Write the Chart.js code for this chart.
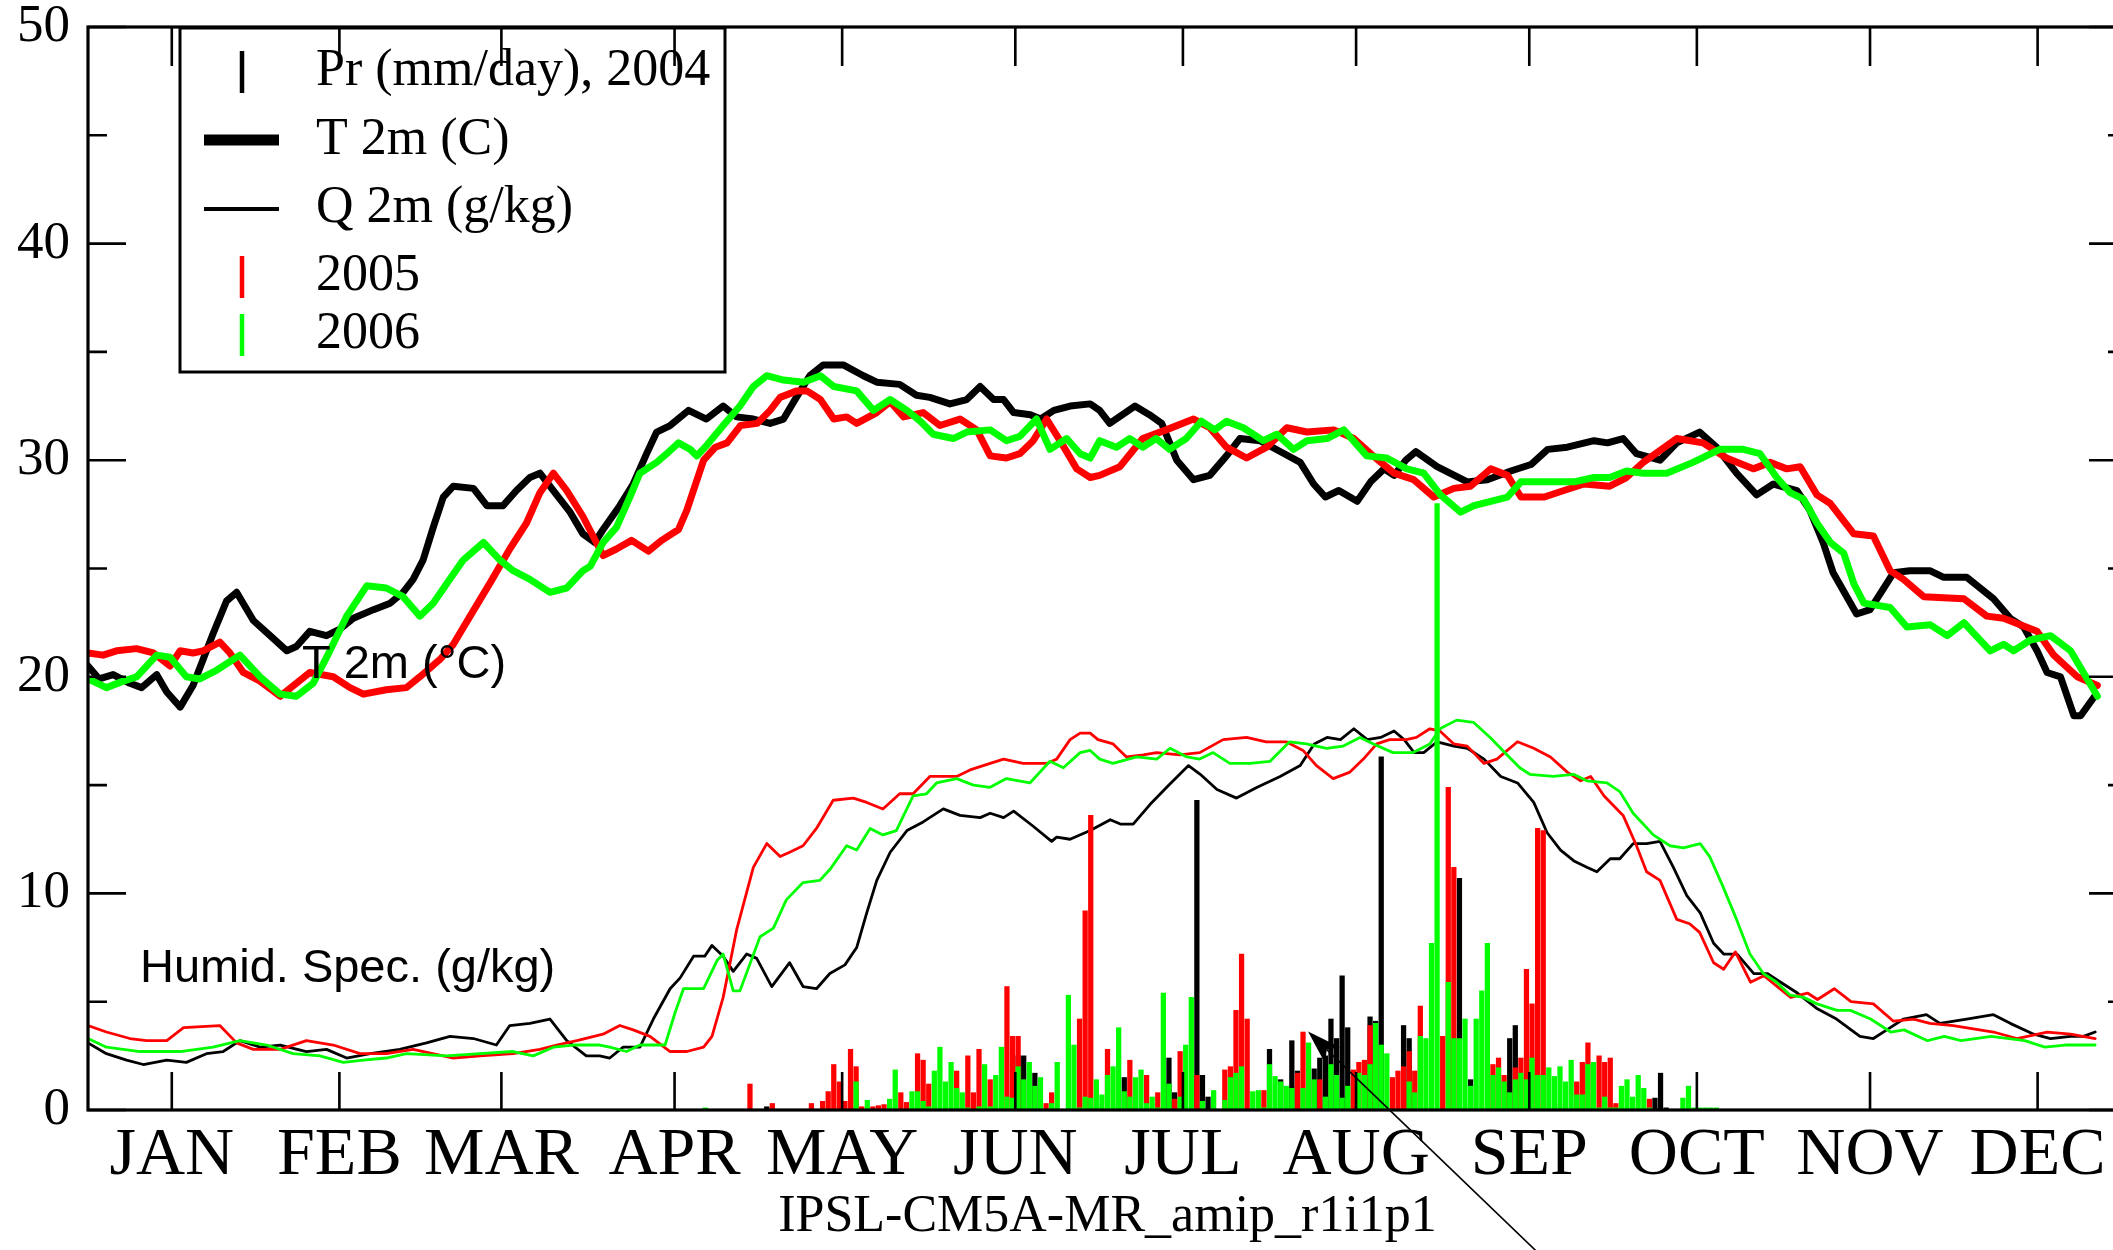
<!DOCTYPE html>
<html>
<head>
<meta charset="utf-8">
<title>IPSL-CM5A-MR_amip_r1i1p1 – T 2m, Q 2m, Pr</title>
<script src="https://cdn.jsdelivr.net/npm/chart.js@4/dist/chart.umd.min.js"></script>
<style>
  html, body { margin: 0; padding: 0; background: #fff; overflow: hidden; }
  canvas { display: block; }
</style>
</head>
<body>
<canvas id="chart" width="2140" height="1250"></canvas>
<script>
// ---- axis ticks ----------------------------------------------------------
const monthTicks  = [15, 45, 74, 105, 135, 166, 196, 227, 258, 288, 319, 349];
const monthLabels = ['JAN','FEB','MAR','APR','MAY','JUN','JUL','AUG','SEP','OCT','NOV','DEC'];
const yMajorTicks = [0, 10, 20, 30, 40, 50];
const yMinorTicks = [5, 15, 25, 35, 45];

// ---- 2 m temperature (C), [day of year, value] ---------------------------
const t2m2004 = [[0,20.5],[2,19.9],[4.5,20.1],[7.5,19.7],[9.6,19.5],[12.3,20.1],[14.1,19.3],[16.5,18.6],[18.8,19.6],[22.4,22.0],[24.8,23.5],[26.6,23.9],[29.6,22.6],[32.6,21.9],[35.6,21.2],[37.3,21.4],[39.7,22.1],[42.7,21.9],[45.1,22.2],[47.5,22.7],[51.1,23.1],[54.1,23.4],[56.4,23.9],[58.2,24.5],[60,25.4],[61.8,26.9],[63.6,28.3],[65.4,28.8],[69,28.7],[71.4,27.9],[74.3,27.9],[76.7,28.6],[79.1,29.2],[80.9,29.4],[83.3,28.6],[86.3,27.6],[88.6,26.6],[90.7,26.2],[92.2,26.8],[95.2,27.9],[97.6,28.9],[100,30.3],[101.8,31.3],[104.2,31.6],[107.5,32.3],[110.7,31.9],[113.7,32.5],[116.1,32.0],[119.1,31.9],[122.1,31.7],[124.5,31.9],[126.8,32.9],[129.2,33.9],[131.6,34.4],[135.2,34.4],[138.8,33.9],[141.2,33.6],[145.3,33.5],[148.3,33.0],[150.7,32.9],[154.3,32.6],[157.3,32.8],[159.7,33.4],[162.1,32.8],[163.9,32.8],[165.7,32.2],[168.7,32.1],[170.5,31.9],[172.9,32.3],[175.8,32.5],[179.4,32.6],[181.1,32.3],[182.9,31.7],[187.4,32.5],[190,32.1],[192.2,31.7],[194.9,30.0],[197.9,29.1],[200.8,29.3],[203.8,30.2],[206.2,31.0],[209.8,30.9],[213.4,30.4],[217,29.9],[219.4,28.9],[221.5,28.3],[223.9,28.6],[227.2,28.1],[229.6,29.0],[232,29.6],[233.8,29.3],[235.9,30.0],[237.7,30.4],[241.5,29.7],[246.9,29.0],[250.5,29.1],[254.7,29.5],[258.3,29.8],[261.3,30.5],[264.8,30.6],[269.6,30.9],[272,30.8],[274.8,31.0],[277.2,30.3],[281.4,30.0],[284.4,30.8],[288.5,31.3],[291.5,30.6],[295.1,29.4],[298.7,28.4],[301.7,28.9],[305.9,28.6],[308.2,27.7],[310.6,26.2],[312.4,24.8],[316.6,22.9],[319,23.1],[323.2,24.8],[326.1,24.9],[329.7,24.9],[332.1,24.6],[336.3,24.6],[341.1,23.6],[344.1,22.7],[346.5,22.3],[348.9,21.2],[350.7,20.2],[353.1,20.0],[355.5,18.2],[356.7,18.2],[359.2,19.1]];
const t2m2005 = [[0,21.1],[2.7,21.0],[5.1,21.2],[8.7,21.3],[11.7,21.1],[14.7,20.5],[16.5,21.2],[18.8,21.1],[20.6,21.2],[23.6,21.6],[25.4,21.1],[27.8,20.2],[30.8,19.8],[34.4,19.1],[37.3,19.7],[39.7,20.2],[43.9,20.0],[46.9,19.5],[49.3,19.2],[53.4,19.4],[57,19.5],[59.4,20.0],[63,20.8],[65.4,21.5],[68.4,22.8],[71.9,24.3],[75.5,25.9],[78.5,27.1],[80.9,28.5],[83.3,29.4],[85.7,28.6],[88.6,27.4],[92.2,25.6],[94.6,25.9],[97.3,26.3],[100.3,25.8],[102.7,26.3],[105.7,26.8],[107.2,27.7],[110.2,30.0],[112.3,30.6],[114.4,30.8],[116.8,31.6],[119.8,31.7],[122.1,32.3],[123.9,32.9],[126.9,33.2],[128.7,33.2],[131.1,32.8],[133.5,31.9],[135.8,32.0],[137.6,31.7],[141.2,32.2],[143.6,32.7],[146,32.0],[149.5,32.2],[152.5,31.6],[156.1,31.9],[159.1,31.4],[161.5,30.2],[164.4,30.1],[166.8,30.3],[169.2,30.9],[171.6,31.9],[174,30.9],[177,29.6],[179.4,29.2],[181.1,29.3],[184.7,29.7],[188.8,31.0],[193,31.4],[197.9,31.9],[200.8,31.5],[203.8,30.6],[207.4,30.1],[211,30.6],[214.6,31.5],[218.2,31.3],[223,31.4],[226.6,31.0],[229.6,30.3],[233.8,29.4],[237.3,29.1],[240.9,28.3],[244.5,28.7],[247.5,28.8],[251.1,29.6],[254.1,29.3],[256.5,28.3],[260.7,28.3],[264.2,28.6],[267.8,28.9],[272.4,28.8],[275.4,29.2],[278.4,29.9],[284.4,31.0],[289.1,30.8],[293.3,30.1],[298.1,29.6],[301.1,29.9],[304.1,29.6],[306.5,29.7],[309.5,28.4],[311.9,28.0],[316.1,26.6],[319.6,26.5],[322.6,24.9],[325,24.5],[328.6,23.7],[335.8,23.6],[339.9,22.8],[342.9,22.7],[348.9,22.1],[351.9,21.0],[356.1,20.0],[359.7,19.6]];
const t2m2006 = [[0,19.9],[3.3,19.5],[6.3,19.8],[8.7,20.0],[12.3,21.0],[14.7,20.9],[17.6,20.0],[20,19.9],[23,20.3],[27.2,21.0],[30.8,20.0],[34.4,19.2],[37.3,19.1],[40.3,19.7],[43.3,21.2],[46.3,22.8],[49.9,24.2],[53.4,24.1],[56.4,23.7],[59.4,22.8],[61.8,23.4],[64.2,24.3],[67.2,25.4],[70.8,26.2],[73.7,25.4],[76.1,24.9],[79.1,24.5],[82.7,23.9],[85.7,24.1],[88.6,24.9],[89.9,25.1],[92.2,26.2],[94.6,26.9],[97,28.3],[98.8,29.4],[101.8,29.9],[103.6,30.3],[105.7,30.8],[107.8,30.5],[109,30.2],[110.8,30.7],[113.7,31.6],[116.7,32.5],[119.1,33.4],[121.5,33.9],[124.5,33.7],[128.1,33.6],[131.1,33.9],[133.5,33.4],[137.6,33.2],[140.6,32.3],[143.6,32.8],[146.6,32.3],[149,31.8],[151.3,31.2],[154.9,31.0],[157.3,31.3],[161.5,31.4],[164.4,30.9],[166.8,31.1],[169.8,31.9],[172.2,30.5],[175.2,31.0],[177.6,30.3],[179.4,30.1],[181.1,30.9],[184.1,30.6],[186.5,31.0],[188.8,30.6],[191.2,31.0],[193.6,30.5],[196.6,31.0],[199.3,31.8],[201.7,31.4],[203.8,31.8],[206.8,31.5],[210.4,30.9],[212.8,31.2],[215.8,30.5],[218.2,30.9],[221.8,31.0],[224.8,31.4],[228.9,30.2],[232.5,30.1],[236.1,29.6],[239.1,29.4],[242.1,28.4],[245.7,27.6],[248.1,27.9],[254.1,28.3],[256.5,29.0],[261.8,29.0],[266,29.0],[269.6,29.2],[272.4,29.2],[275.4,29.5],[278.4,29.4],[282.6,29.4],[287.3,29.9],[292.1,30.5],[296.3,30.5],[299.3,30.3],[302.3,29.2],[304.7,28.5],[307.1,28.2],[309.5,27.1],[311.9,26.2],[314.3,25.7],[316.1,24.3],[317.9,23.4],[322.6,23.2],[325.6,22.3],[329.8,22.4],[332.8,21.9],[335.8,22.5],[340.5,21.2],[342.9,21.5],[344.7,21.2],[347.7,21.7],[351.3,21.9],[354.9,21.2],[359.7,19.1]];

// ---- 2 m specific humidity (g/kg), [day of year, value] ------------------
const q2m2004 = [[0,3.1],[3.3,2.6],[6.9,2.3],[9.9,2.1],[14.1,2.3],[17.6,2.2],[21.2,2.6],[24.2,2.7],[27.2,3.2],[30.8,2.9],[34.4,3.0],[39.1,2.7],[42.7,2.8],[46.3,2.4],[50.5,2.6],[55.8,2.8],[60.6,3.1],[64.8,3.4],[69,3.3],[73.1,3.0],[75.5,3.9],[79.1,4.0],[82.7,4.2],[85.7,3.2],[89.2,2.5],[91.6,2.5],[93.4,2.4],[95.8,2.9],[98.8,2.9],[101.2,4.2],[104.2,5.6],[106,6.1],[108.4,7.1],[110.4,7.1],[111.7,7.6],[113.7,7.1],[115.5,6.4],[117.9,7.2],[119.7,7.0],[122.4,5.7],[125.6,6.8],[128,5.7],[130.4,5.6],[132.8,6.3],[135.5,6.7],[137.6,7.5],[139.4,9.1],[141.2,10.6],[143.6,11.9],[146.6,12.9],[149.5,13.3],[153.1,13.9],[156.1,13.6],[159.7,13.5],[161.5,13.7],[163.9,13.5],[165.7,13.8],[169.2,13.1],[172.5,12.4],[173.4,12.6],[175.8,12.5],[179.4,12.9],[183,13.4],[184.8,13.2],[187.1,13.2],[190.1,14.1],[193.1,14.9],[197,15.9],[199.1,15.5],[202.1,14.8],[205.6,14.4],[209.3,14.9],[213.4,15.4],[217,15.9],[219.5,16.9],[221.8,17.2],[224.2,17.1],[226.6,17.6],[229,17.1],[231.4,17.2],[233.8,17.5],[235.6,17.1],[237.4,16.5],[239.1,16.5],[241.5,17.0],[244.5,16.8],[246.9,16.7],[249.9,16.2],[252.9,15.4],[255.9,15.1],[258.8,14.2],[261.2,12.8],[263.6,12.0],[266,11.5],[268.4,11.2],[270.1,11.0],[272.5,11.6],[274.2,11.6],[276.6,12.3],[279,12.3],[281.4,12.4],[283.8,11.2],[286.2,9.9],[288.6,9.1],[291,7.7],[292.8,7.2],[295.2,7.2],[298.2,6.3],[300.6,6.3],[303,5.9],[306,5.4],[309.4,4.7],[313,4.2],[317.2,3.4],[319.6,3.3],[322,3.7],[325,4.2],[329.1,4.4],[331.5,4.0],[336.3,4.2],[341.1,4.4],[344.1,4.0],[348.3,3.5],[351.3,3.3],[354.9,3.4],[357.2,3.4],[359.3,3.6]];
const q2m2005 = [[0,3.9],[3.3,3.6],[7.5,3.3],[10.5,3.2],[14.1,3.2],[17.1,3.8],[23.6,3.9],[26.6,3.1],[29.6,2.8],[34.4,2.8],[39.1,3.2],[43.9,3.0],[48.7,2.6],[53.4,2.6],[58.2,2.8],[65.4,2.4],[70.2,2.5],[76.1,2.6],[80.9,2.8],[83.9,3.0],[87.5,3.2],[92.2,3.5],[95.2,3.9],[97.6,3.7],[100.6,3.4],[104.2,2.7],[107.2,2.7],[110.2,2.9],[111.7,3.4],[113.7,5.2],[116.1,8.3],[119.1,11.2],[121.5,12.3],[123.9,11.7],[125.6,11.9],[128,12.2],[130.4,13.0],[133.4,14.3],[137,14.4],[139.4,14.2],[142.3,13.9],[145.3,14.6],[147.7,14.6],[150.7,15.4],[153.1,15.4],[155.5,15.4],[157.9,15.7],[161.5,16.0],[163.9,16.2],[167.4,16.0],[171.6,16.0],[173.4,16.2],[175.8,17.1],[177.6,17.4],[179.4,17.4],[180.8,17.1],[183.5,16.9],[185.9,16.3],[188.9,16.4],[191.3,16.5],[195.4,16.4],[199,16.5],[203.2,17.1],[207.4,17.2],[210.9,17.0],[214.5,17.0],[217.5,16.6],[219.9,15.9],[222.9,15.3],[225.9,15.6],[228.3,16.2],[230.7,16.9],[233,17.1],[236,17.1],[237.8,17.2],[240.2,17.6],[242,17.5],[244.5,16.9],[246.9,16.8],[249.9,16.0],[252.2,16.2],[255.9,17.0],[258.8,16.7],[261.8,16.3],[264.8,15.6],[267.2,15.2],[269,15.4],[271.4,14.5],[274.8,13.6],[277.2,12.2],[279,11.0],[281.4,10.6],[284.4,8.8],[286.7,8.6],[288.5,8.2],[291,6.8],[292.8,6.5],[294.9,7.3],[297.6,5.9],[300,6.2],[302.4,5.7],[304.8,5.2],[307.8,5.4],[309.6,5.1],[312.6,5.6],[315.6,5.0],[319.6,4.9],[323.2,4.1],[326.8,4.2],[329.7,4.0],[333.9,3.9],[341.1,3.6],[345.3,3.3],[350.7,3.6],[354.9,3.5],[359.3,3.3]];
const q2m2006 = [[0,3.3],[3.3,2.9],[9.3,2.7],[16.5,2.7],[22.4,2.9],[27.2,3.2],[32,3.0],[36.7,2.6],[41.5,2.5],[45.7,2.2],[49.3,2.3],[53.4,2.4],[57,2.6],[64.2,2.5],[70.2,2.6],[76.1,2.7],[79.7,2.5],[83.3,2.9],[86.9,3.0],[91.6,3.0],[93.4,2.9],[96.4,2.7],[98.8,3.0],[103.3,3.0],[105.1,4.5],[106.6,5.6],[110.2,5.6],[112.6,6.9],[113.7,7.2],[115.5,5.5],[116.7,5.5],[120.3,8.0],[122.7,8.4],[125,9.7],[128,10.5],[131,10.6],[132.8,11.1],[135.8,12.2],[137.6,12.0],[140,13.0],[142.3,12.7],[144.7,12.9],[147.7,14.5],[150.1,14.6],[151.9,15.1],[155.5,15.3],[158.5,15.0],[161.5,14.9],[164.4,15.3],[168.6,15.1],[172.2,16.1],[174.6,15.8],[177.6,16.5],[179.4,16.6],[181.1,16.2],[183.5,16.0],[187.7,16.3],[191.3,16.2],[193.7,16.7],[196.7,16.3],[199,16.2],[201.4,16.5],[204.4,16.0],[208,16.0],[211.6,16.1],[215.1,17.0],[218.1,16.9],[221.7,16.7],[224.7,16.8],[227.7,17.2],[230.1,16.9],[233.6,16.5],[237.2,16.5],[240.2,16.9],[242,17.6],[245,18.0],[248,17.9],[251,17.2],[254,16.4],[256.3,15.8],[258.1,15.5],[262.3,15.4],[265.9,15.5],[268.3,15.2],[271.9,15.1],[274.2,14.7],[276.6,13.7],[280.2,12.7],[283.2,12.2],[285.6,12.1],[288.6,12.3],[290.3,11.7],[292.7,10.3],[295.1,8.8],[297.5,7.2],[299.9,6.3],[302.3,5.9],[304.7,5.3],[307.1,5.2],[309.5,4.9],[313.1,4.6],[315.5,4.6],[319.1,4.2],[322.7,3.6],[325.1,3.7],[329.3,3.2],[332.3,3.4],[335.3,3.2],[340.7,3.4],[346.7,3.2],[350.3,2.9],[353.9,3.0],[359.3,3.0]];

// ---- daily precipitation (mm/day), [day of year, value] -------------------
const pr2004 = [[121,0.15],[166,2.5],[167,2.5],[169,1.7],[185,1.5],[193,2.4],[194,0.8],[198,14.3],[199,1.6],[200,0.6],[211,2.8],[213,1.4],[215,3.2],[216,1.8],[219,1.9],[220,2.4],[221,2.5],[222,4.2],[223,3.3],[224,6.2],[225,3.8],[229,4.3],[230,4.1],[231,16.3],[235,3.9],[236,3.3],[245,10.7],[247,1.4],[254,3.3],[255,3.9],[280,0.55],[281,1.7],[282,0.1]];
const pr2005 = [[118,1.2],[122,0.3],[129,0.3],[131,0.4],[132,0.85],[133,2.1],[134,1.3],[135,0.4],[136,2.8],[137,2.0],[138,0.15],[140,0.15],[141,0.2],[142,0.25],[145,0.8],[146,0.35],[148,2.6],[149,2.3],[150,1.2],[155,1.8],[157,2.5],[158,0.8],[159,2.8],[161,1.4],[164,5.7],[165,3.4],[166,3.4],[171,0.3],[172,0.8],[177,4.2],[178,9.2],[179,13.6],[182,2.8],[186,2.3],[189,1.6],[191,0.8],[194,0.5],[195,2.7],[198,1.6],[203,1.85],[204,2.0],[205,4.6],[206,7.2],[207,4.2],[210,0.9],[216,1.7],[217,3.6],[220,1.4],[226,1.85],[227,2.2],[228,2.3],[229,3.9],[233,1.5],[234,1.8],[235,2.0],[236,2.7],[237,1.8],[238,4.8],[242,3.4],[243,14.9],[244,11.2],[251,2.1],[252,2.4],[253,1.6],[255,1.95],[256,2.4],[257,6.5],[258,4.9],[259,13.0],[260,12.9],[266,1.3],[267,2.2],[268,3.1],[270,2.5],[271,2.2],[272,2.4],[273,0.3],[279,0.5]];
const pr2006 = [[110,0.1],[137,1.3],[139,0.45],[143,0.5],[144,1.85],[147,0.85],[148,0.85],[149,0.4],[150,0.15],[151,1.8],[152,2.9],[153,1.3],[154,2.2],[155,1.0],[156,0.8],[157,0.1],[159,0.15],[160,2.1],[161,0.15],[162,1.6],[163,2.9],[164,0.6],[165,0.55],[166,2.0],[167,1.4],[168,2.2],[169,1.1],[170,1.5],[172,0.3],[173,2.2],[175,5.3],[176,3.0],[177,0.1],[178,0.6],[179,0.55],[180,1.4],[181,0.7],[182,1.6],[183,2.0],[184,3.8],[185,0.85],[186,0.6],[187,1.5],[188,1.85],[189,0.3],[190,0.6],[191,0.1],[192,5.4],[193,1.2],[195,0.6],[196,3.0],[197,5.2],[199,0.4],[201,0.9],[203,0.45],[204,1.5],[205,1.7],[206,2.0],[208,0.85],[209,0.9],[210,0.1],[211,2.1],[212,1.55],[213,1.3],[214,1.1],[215,1.0],[217,1.0],[218,3.1],[219,1.4],[221,0.6],[222,2.1],[223,1.6],[224,0.55],[225,1.1],[227,1.7],[228,1.6],[229,2.1],[230,4.0],[231,3.0],[232,2.6],[236,1.3],[237,0.8],[238,3.4],[239,3.3],[240,7.7],[241,28.0],[243,5.9],[244,3.3],[245,3.3],[246,4.2],[247,1.1],[248,4.2],[249,5.5],[250,7.7],[251,1.6],[252,1.95],[253,1.3],[254,0.8],[255,1.4],[256,1.7],[257,1.4],[258,2.4],[259,1.6],[260,1.6],[261,1.95],[262,1.55],[263,2.0],[264,1.3],[265,2.3],[266,0.7],[267,0.7],[268,2.1],[269,2.2],[270,0.1],[271,0.6],[272,0.1],[273,0.1],[274,1.1],[275,1.4],[276,0.6],[277,1.6],[278,1.0],[279,0.1],[285,0.55],[286,1.1],[287,0.1],[288,0.1],[289,0.1],[290,0.1],[291,0.1]];

// ---- legend entries and free text ----------------------------------------
const legendRows = [
  { label: 'Pr (mm/day), 2004', kind: 'bar',   color: '#000000' },
  { label: 'T 2m (C)',          kind: 'thick', color: '#000000' },
  { label: 'Q 2m (g/kg)',       kind: 'thin',  color: '#000000' },
  { label: '2005',              kind: 'bar',   color: '#ff0000' },
  { label: '2006',              kind: 'bar',   color: '#00ff00' }
];
const notes = [
  { text: 'T 2m (\u00B0C)',          day: 38.3, value: 19.95 },
  { text: 'Humid. Spec. (g/kg)',     day: 9.3,  value: 5.93 }
];
const pointer = { tipDay: 218.4, tipValue: 3.62, tailDay: 259.2, tailValue: -6.5 };

const BLACK = '#000000', RED = '#ff0000', GREEN = '#00ff00';
const SERIF = "'Liberation Serif', 'Times New Roman', serif";
const SANS  = "'Liberation Sans', Arial, sans-serif";

const asPoints = arr => arr.map(([d, v]) => ({ x: d, y: v }));
const asBars   = arr => arr.map(([d, v]) => ({ x: d + 0.5, y: v }));

function lineSet(label, arr, color, width, order) {
  return {
    type: 'line', label, data: asPoints(arr), borderColor: color, backgroundColor: color,
    borderWidth: width, pointRadius: 0, tension: 0, fill: false,
    borderJoinStyle: 'round', borderCapStyle: 'round', order
  };
}
function barSet(label, arr, color, order) {
  return {
    type: 'bar', label, data: asBars(arr), backgroundColor: color, borderWidth: 0,
    barThickness: 4.6, grouped: false, order
  };
}

// Frame and inward tick marks on all four sides
const frameTicks = {
  id: 'frameTicks',
  afterDatasetsDraw(chart) {
    const { ctx, chartArea: a, scales: { x, y } } = chart;
    ctx.save();
    ctx.strokeStyle = BLACK;
    ctx.lineWidth = 2.6;
    ctx.beginPath();
    yMajorTicks.forEach(v => {
      const py = y.getPixelForValue(v);
      ctx.moveTo(a.left, py);  ctx.lineTo(a.left + 38, py);
      ctx.moveTo(a.right, py); ctx.lineTo(a.right - 38, py);
    });
    yMinorTicks.forEach(v => {
      const py = y.getPixelForValue(v);
      ctx.moveTo(a.left, py);  ctx.lineTo(a.left + 19, py);
      ctx.moveTo(a.right, py); ctx.lineTo(a.right - 19, py);
    });
    monthTicks.forEach(d => {
      const px = x.getPixelForValue(d);
      ctx.moveTo(px, a.top);    ctx.lineTo(px, a.top + 39);
      ctx.moveTo(px, a.bottom); ctx.lineTo(px, a.bottom - 38);
    });
    ctx.stroke();
    ctx.lineWidth = 3.2;
    ctx.strokeRect(a.left, a.top, a.right - a.left, a.bottom - a.top);
    ctx.restore();
  }
};

// Boxed legend, free labels and the pointer arrow
const overlays = {
  id: 'overlays',
  afterDraw(chart) {
    const { ctx, chartArea: a, scales: { x, y } } = chart;
    ctx.save();

    // legend box
    const bx = a.left + 92, by = a.top + 1, bw = 545, bh = 344;
    ctx.strokeStyle = BLACK;
    ctx.lineWidth = 3;
    ctx.strokeRect(bx, by, bw, bh);
    const baselines = [58, 127, 195, 263, 321];
    const symX = bx + 62, lineX0 = bx + 24, lineX1 = bx + 99, textX = bx + 136;
    ctx.font = '52px ' + SERIF;
    ctx.fillStyle = BLACK;
    ctx.textAlign = 'left';
    ctx.textBaseline = 'alphabetic';
    legendRows.forEach((row, i) => {
      const base = a.top + baselines[i];
      ctx.strokeStyle = row.color;
      ctx.beginPath();
      if (row.kind === 'bar') {
        ctx.lineWidth = 4.5;
        ctx.moveTo(symX, base - 34); ctx.lineTo(symX, base + 8);
      } else if (row.kind === 'thick') {
        ctx.lineWidth = 11;
        ctx.moveTo(lineX0, base - 14); ctx.lineTo(lineX1, base - 14);
      } else {
        ctx.lineWidth = 4;
        ctx.moveTo(lineX0, base - 13); ctx.lineTo(lineX1, base - 13);
      }
      ctx.stroke();
      ctx.fillStyle = BLACK;
      ctx.fillText(row.label, textX, base);
    });

    // free labels
    ctx.font = '47px ' + SANS;
    ctx.fillStyle = BLACK;
    notes.forEach(n => {
      ctx.fillText(n.text, x.getPixelForValue(n.day), y.getPixelForValue(n.value));
    });

    // pointer arrow
    const tx = x.getPixelForValue(pointer.tipDay), ty = y.getPixelForValue(pointer.tipValue);
    const sx = x.getPixelForValue(pointer.tailDay), sy = y.getPixelForValue(pointer.tailValue);
    const ang = Math.atan2(ty - sy, tx - sx);
    const ux = Math.cos(ang), uy = Math.sin(ang);
    const len = 34, half = 11, notch = 26;
    ctx.strokeStyle = BLACK;
    ctx.lineWidth = 1.6;
    ctx.beginPath();
    ctx.moveTo(sx, sy);
    ctx.lineTo(tx - ux * notch, ty - uy * notch);
    ctx.stroke();
    ctx.fillStyle = BLACK;
    ctx.beginPath();
    ctx.moveTo(tx, ty);
    ctx.lineTo(tx - ux * len - uy * half, ty - uy * len + ux * half);
    ctx.lineTo(tx - ux * notch, ty - uy * notch);
    ctx.lineTo(tx - ux * len + uy * half, ty - uy * len - ux * half);
    ctx.closePath();
    ctx.fill();

    ctx.restore();
  }
};

new Chart(document.getElementById('chart'), {
  type: 'bar',
  data: {
    datasets: [
      barSet('Pr 2006', pr2006, GREEN, 1),
      barSet('Pr 2005', pr2005, RED, 2),
      barSet('Pr 2004', pr2004, BLACK, 3),
      lineSet('Q 2m 2006', q2m2006, GREEN, 2.8, 4),
      lineSet('Q 2m 2005', q2m2005, RED, 2.8, 5),
      lineSet('Q 2m 2004', q2m2004, BLACK, 2.8, 6),
      lineSet('T 2m 2006', t2m2006, GREEN, 7, 7),
      lineSet('T 2m 2005', t2m2005, RED, 7, 8),
      lineSet('T 2m 2004', t2m2004, BLACK, 7, 9)
    ]
  },
  options: {
    responsive: false,
    animation: false,
    devicePixelRatio: 1,
    layout: { padding: { top: 27, right: 13, bottom: 0, left: 0 } },
    plugins: { legend: { display: false }, tooltip: { enabled: false }, title: { display: false } },
    scales: {
      x: {
        type: 'linear', min: 0, max: 365, offset: false,
        grid: { display: false, drawTicks: false },
        border: { display: false },
        afterBuildTicks: s => { s.ticks = monthTicks.map(v => ({ value: v })); },
        afterFit: s => { s.height = 140; s.paddingLeft = 0; s.paddingRight = 0; },
        ticks: {
          autoSkip: false, maxRotation: 0, minRotation: 0, padding: 5, color: BLACK,
          font: { family: SERIF, size: 68 },
          callback: (v, i) => monthLabels[i]
        },
        title: {
          display: true, text: 'IPSL-CM5A-MR_amip_r1i1p1', color: BLACK,
          font: { family: SERIF, size: 52 }, padding: { top: 0, bottom: 1 }
        }
      },
      y: {
        type: 'linear', min: 0, max: 50,
        grid: { display: false, drawTicks: false },
        border: { display: false },
        afterFit: s => { s.width = 88; s.paddingTop = 0; s.paddingBottom = 0; },
        ticks: { stepSize: 10, padding: 18, color: BLACK, font: { family: SERIF, size: 53 } }
      }
    }
  },
  plugins: [frameTicks, overlays]
});
</script>
</body>
</html>
